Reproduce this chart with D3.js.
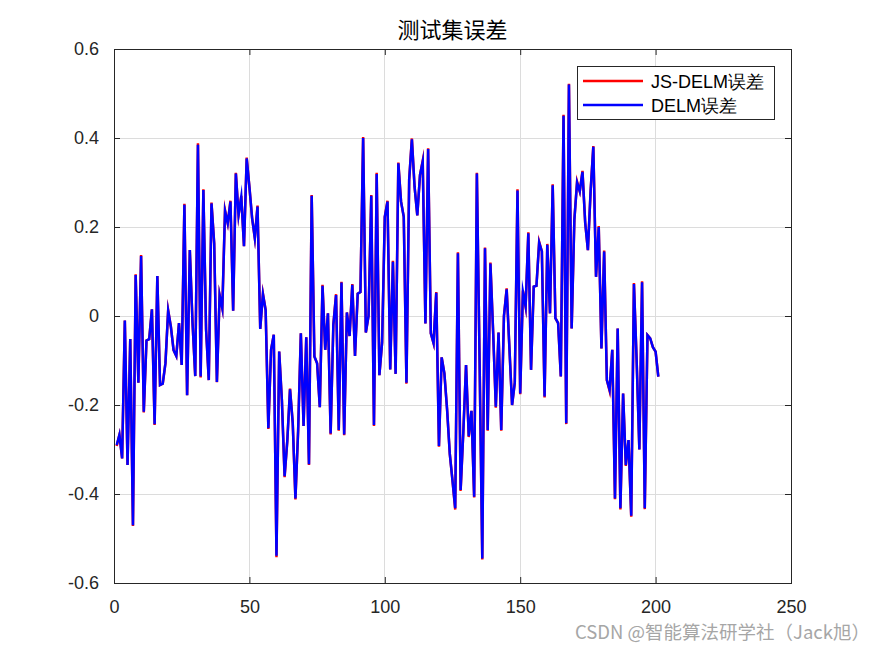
<!DOCTYPE html>
<html><head><meta charset="utf-8">
<script src="https://cdn.jsdelivr.net/npm/d3@7"></script>
<style>body{margin:0;background:#fff}svg{display:block}</style>
</head><body><div id="chart"></div>
<script>
const title = "测试集误差";
const seriesNames = ["JS-DELM误差", "DELM误差"];
const xTicks = [0, 50, 100, 150, 200, 250];
const yTicks = [-0.6, -0.4, -0.2, 0, 0.2, 0.4, 0.6];
const watermark = "CSDN @智能算法研学社（Jack旭）";

const delmErr = [-0.29,-0.267,-0.32,-0.01,-0.335,-0.052,-0.47,0.092,-0.15,0.135,
-0.215,-0.055,-0.052,0.015,-0.243,0.09,-0.155,-0.152,-0.106,0.012,
-0.024,-0.077,-0.09,-0.016,-0.11,0.25,-0.178,0.148,-0.015,-0.135,
0.385,-0.136,0.283,-0.03,-0.144,0.253,0.163,-0.148,0.047,0.017,
0.236,0.208,0.257,0.012,0.32,0.227,0.268,0.157,0.354,0.29,
0.22,0.175,0.246,-0.029,0.049,0.013,-0.252,-0.076,-0.042,-0.539,
-0.08,-0.19,-0.36,-0.28,-0.165,-0.24,-0.41,-0.257,-0.039,-0.247,
-0.048,-0.333,0.27,-0.091,-0.106,-0.205,0.068,-0.076,0.006,-0.264,
-0.02,0.047,-0.256,0.075,-0.266,0.008,-0.045,0.07,-0.09,0.05,
0.054,0.40,-0.037,0.0,0.27,-0.245,0.319,-0.133,-0.06,0.223,
0.257,-0.12,0.122,-0.13,0.343,0.257,0.223,-0.15,0.306,0.397,
0.29,0.226,0.317,0.347,-0.017,0.375,-0.039,-0.061,0.052,-0.292,
-0.093,-0.129,-0.21,-0.31,-0.37,-0.432,0.141,-0.391,-0.26,-0.11,
-0.27,-0.213,-0.406,0.32,-0.1,-0.545,0.152,-0.256,0.118,-0.035,
-0.204,-0.037,-0.256,0.0,0.06,-0.07,-0.2,-0.15,0.282,-0.174,
0.055,0.021,0.186,-0.121,0.066,0.068,0.165,0.145,-0.181,0.16,
0.006,0.294,-0.005,-0.016,-0.136,0.45,-0.241,0.52,-0.028,0.216,
0.30,0.28,0.324,0.21,0.148,0.28,0.38,0.088,0.2,-0.073,
0.145,-0.144,-0.166,-0.076,-0.41,-0.028,-0.432,-0.174,-0.335,-0.279,
-0.449,0.072,-0.1,-0.3,0.076,-0.432,-0.043,-0.05,-0.07,-0.08,
-0.136];

const jsDelmErr = [-0.292,-0.267,-0.32,-0.01,-0.335,-0.052,-0.472,0.094,-0.15,0.137,
-0.217,-0.055,-0.052,0.015,-0.245,0.09,-0.155,-0.152,-0.106,0.013,
-0.024,-0.077,-0.09,-0.016,-0.11,0.252,-0.178,0.148,-0.015,-0.135,
0.388,-0.138,0.285,-0.03,-0.144,0.255,0.163,-0.149,0.047,0.017,
0.238,0.208,0.259,0.012,0.322,0.227,0.27,0.157,0.356,0.29,
0.22,0.175,0.248,-0.029,0.05,0.013,-0.254,-0.076,-0.042,-0.542,
-0.08,-0.19,-0.362,-0.28,-0.163,-0.24,-0.412,-0.257,-0.039,-0.247,
-0.048,-0.335,0.272,-0.091,-0.106,-0.205,0.07,-0.076,0.006,-0.266,
-0.02,0.049,-0.258,0.077,-0.268,0.008,-0.045,0.072,-0.09,0.05,
0.054,0.402,-0.037,0.0,0.272,-0.247,0.322,-0.133,-0.06,0.223,
0.259,-0.12,0.124,-0.13,0.345,0.257,0.223,-0.152,0.306,0.399,
0.29,0.226,0.317,0.349,-0.017,0.377,-0.039,-0.061,0.054,-0.294,
-0.093,-0.129,-0.21,-0.31,-0.37,-0.435,0.143,-0.393,-0.26,-0.11,
-0.272,-0.213,-0.408,0.322,-0.1,-0.547,0.154,-0.258,0.12,-0.035,
-0.206,-0.037,-0.258,0.0,0.062,-0.07,-0.2,-0.15,0.285,-0.176,
0.057,0.021,0.188,-0.121,0.066,0.068,0.167,0.145,-0.183,0.162,
0.006,0.296,-0.005,-0.016,-0.136,0.452,-0.243,0.522,-0.028,0.216,
0.302,0.28,0.326,0.21,0.148,0.28,0.382,0.088,0.202,-0.073,
0.147,-0.144,-0.168,-0.076,-0.412,-0.028,-0.435,-0.174,-0.337,-0.279,
-0.451,0.074,-0.1,-0.3,0.078,-0.434,-0.043,-0.05,-0.07,-0.08,
-0.136];

const W = 875, H = 656;
const m = {left: 114, right: 791, top: 49, bottom: 583};
const svg = d3.select("#chart").append("svg").attr("width", W).attr("height", H);
svg.append("rect").attr("width", W).attr("height", H).attr("fill", "#fff");

const x = d3.scaleLinear().domain([0, 250]).range([m.left, m.right]);
const y = d3.scaleLinear().domain([-0.6, 0.6]).range([m.bottom, m.top]);

const axisCol = "#262626";
const fontLat = "'Liberation Sans', Arial, Helvetica, sans-serif";

// grid
const grid = svg.append("g");
grid.selectAll("line.gx").data(xTicks).enter().append("line")
  .attr("x1", d => x(d)).attr("x2", d => x(d)).attr("y1", m.top).attr("y2", m.bottom)
  .attr("stroke", "#dcdcdc").attr("stroke-width", 1).attr("shape-rendering", "crispEdges");
grid.selectAll("line.gy").data(yTicks).enter().append("line")
  .attr("y1", d => y(d)).attr("y2", d => y(d)).attr("x1", m.left).attr("x2", m.right)
  .attr("stroke", "#dcdcdc").attr("stroke-width", 1).attr("shape-rendering", "crispEdges");

// lines
const idx = d3.range(1, delmErr.length + 1);
const line = d3.line().x((d, i) => x(idx[i])).y(d => y(d));
svg.append("path").datum(jsDelmErr).attr("d", line).attr("fill", "none")
  .attr("stroke", "#ff0000").attr("stroke-width", 2.5).attr("stroke-linejoin", "miter").attr("stroke-miterlimit", 10);
svg.append("path").datum(delmErr).attr("d", line).attr("fill", "none")
  .attr("stroke", "#0000ff").attr("stroke-width", 2.5).attr("stroke-linejoin", "miter").attr("stroke-miterlimit", 10);

// axes with inward ticks, mirrored
const tickLen = 6;
const fmt = d => d === 0 ? "0" : d3.format(".1f")(d).replace("−", "-");
const xAxisB = d3.axisBottom(x).tickValues(xTicks).tickSize(-tickLen).tickPadding(17).tickFormat(d3.format("d"));
const xAxisT = d3.axisTop(x).tickValues(xTicks).tickSize(-tickLen).tickFormat("");
const yAxisL = d3.axisLeft(y).tickValues(yTicks).tickSize(-tickLen).tickPadding(15).tickFormat(fmt);
const yAxisR = d3.axisRight(y).tickValues(yTicks).tickSize(-tickLen).tickFormat("");

function style(g) {
  g.select(".domain").remove();
  g.selectAll(".tick line").attr("stroke", axisCol).attr("stroke-width", 1);
  g.selectAll("text").attr("fill", axisCol).style("font-family", fontLat).style("font-size", "18px");
}
svg.append("g").attr("transform", `translate(0,${m.bottom})`).call(xAxisB).call(style);
svg.append("g").attr("transform", `translate(0,${m.top})`).call(xAxisT).call(style);
svg.append("g").attr("transform", `translate(${m.left},0)`).call(yAxisL).call(style);
svg.append("g").attr("transform", `translate(${m.right},0)`).call(yAxisR).call(style);

svg.append("rect").attr("x", m.left + 0.5).attr("y", m.top + 0.5)
  .attr("width", m.right - m.left).attr("height", m.bottom - m.top)
  .attr("fill", "none").attr("stroke", axisCol).attr("stroke-width", 1).attr("shape-rendering", "crispEdges");

// title
svg.append("text").attr("x", (m.left + m.right) / 2).attr("y", 38)
  .attr("text-anchor", "middle").attr("fill", "#000")
  .style("font-family", "'Noto Sans CJK SC', sans-serif").style("font-size", "22px")
  .text(title);

// legend
const lg = svg.append("g").attr("transform", "translate(577,66)");
lg.append("rect").attr("x", 0.5).attr("y", 0.5).attr("width", 197).attr("height", 53)
  .attr("fill", "#fff").attr("stroke", "#262626").attr("stroke-width", 1).attr("shape-rendering", "crispEdges");
const colors = ["#ff0000", "#0000ff"];
seriesNames.forEach((n, i) => {
  const yy = 15 + i * 24;
  lg.append("line").attr("x1", 6).attr("x2", 66).attr("y1", yy).attr("y2", yy)
    .attr("stroke", colors[i]).attr("stroke-width", 2.5);
  lg.append("text").attr("x", 74).attr("y", yy + 6.5).attr("fill", "#000")
    .style("font-family", fontLat).style("font-size", "18px").text(n);
});

// watermark
svg.append("text").attr("x", 870).attr("y", 639).attr("text-anchor", "end")
  .attr("fill", "#a6a6a6").style("font-family", "'Noto Sans CJK SC', sans-serif")
  .style("font-size", "18.5px").text(watermark);
</script></body></html>
